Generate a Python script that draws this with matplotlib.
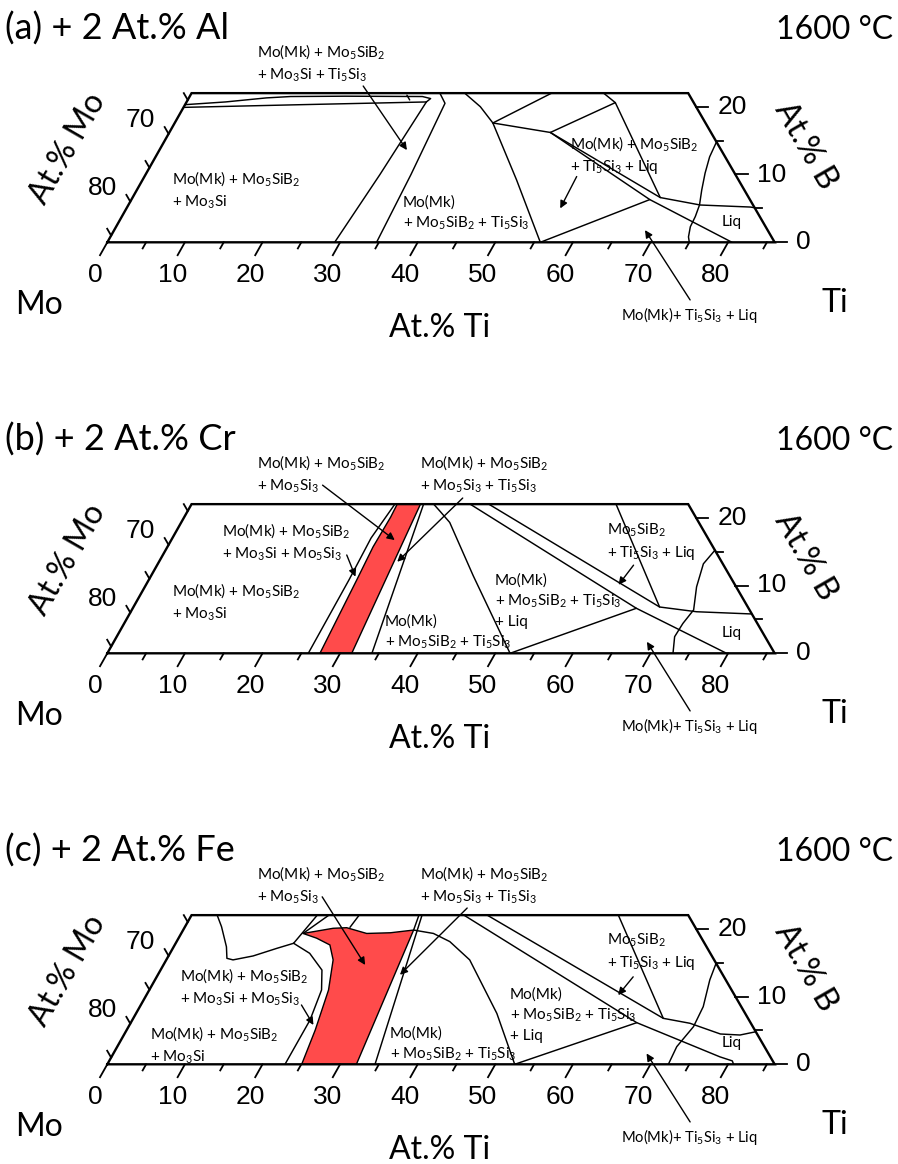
import matplotlib.pyplot as plt
from matplotlib.transforms import Affine2D
from matplotlib.patches import Polygon

plt.rcParams['font.family'] = ['Lato', 'DejaVu Sans']
plt.rcParams['mathtext.fontset'] = 'custom'
plt.rcParams['mathtext.rm'] = 'Lato'
plt.rcParams['mathtext.it'] = 'Lato:italic'
plt.rcParams['mathtext.bf'] = 'Lato:bold'

# section of Mo-Si-B-Ti at 1600 C, Ti (at.%) along the base, B (at.%) up the side
TI_MAX = 86
B_MAX = 22
ti_ticks = list(range(0, 90, 5))
ti_labels = list(range(0, 90, 10))
b_ticks = [0, 5, 10, 15, 20]
b_labels = [0, 10, 20]
mo_ticks = [85, 80, 75, 70, 65]
mo_labels = [80, 70]

titles = ['(a) + 2 At.% Al', '(b) + 2 At.% Cr', '(c) + 2 At.% Fe']
temp = '1600 °C'

# phase boundaries, (Ti, B) in at.%
# (a) + Al
a_lens_low = [(0, 19.9), (15, 20.3), (30.9, 20.7)]
a_lens_up = [(0, 20.3), (5, 20.7), (10, 21.3), (13, 21.5), (20, 21.55), (30, 21.5), (31.2, 21.2), (30.9, 20.7)]
a_tie = [(27.9, 21.7), (28.6, 21.0)]
a_line1 = [(29.3, 0), (30.2, 10), (30.9, 20.7)]
a_line2 = [(34.7, 0), (34.2, 10), (33.4, 20.5), (32.0, 22)]
a_line3 = [(35.2, 22), (38.2, 20.0), (41.0, 17.6), (48.2, 9.2), (55.8, 0)]
a_line4 = [(41.0, 17.6), (46.4, 22)]
a_line5 = [(41.0, 17.6), (49.1, 16.2), (55.3, 20.6), (53.1, 22)]
a_line6 = [(55.3, 20.6), (68.0, 6.6)]
a_line7 = [(49.1, 16.2), (68.0, 6.6), (73.7, 5.5), (80.3, 5.2), (80.9, 5.1)]
a_line8 = [(49.1, 16.2), (66.8, 6.3)]
a_line9 = [(55.8, 0), (66.8, 6.3), (80.5, 0)]
a_liq = [(71.2, 14.8), (71.4, 12.6), (72.0, 10.2), (72.8, 7.7), (73.6, 5.5),
         (73.9, 3.8), (74.0, 2.3), (74.5, 0.8), (75.0, 0)]

# (b) + Cr
b_red = [(27.4, 0), (26.8, 10.9), (26.5, 15.7), (26.6, 20.1), (26.5, 22), (29.5, 22), (31.5, 0)]
b_line1 = [(25.9, 0), (25.8, 10.9), (25.6, 17), (26.2, 22)]
b_line2 = [(34.1, 0), (29.9, 22)]
b_line3 = [(31.2, 22), (32.6, 20.9), (34.6, 19.3), (41.5, 11.45), (51.9, 0)]
b_line4 = [(35.9, 22), (64.9, 6.64), (79.8, 0)]
b_line5 = [(38.3, 22), (67.8, 6.83), (72.9, 6.13), (80.2, 5.8)]
b_line6 = [(51.9, 0), (64.9, 6.64)]
b_line7 = [(54.7, 22), (67.8, 6.83)]
b_liq = [(70.8, 15.2), (70.3, 13.2), (71.1, 9.8), (72.4, 6.4), (72.0, 4.4), (71.9, 2.45), (72.9, 0)]

# (c) + Fe
c_red = [(25.05, 0), (24.3, 5.06), (23.1, 10.96), (21.5, 15.4), (20.0, 17.6), (17.8, 18.6),
         (15.7, 19.3), (19.2, 20.06), (20.9, 20.15), (23.9, 19.3), (26.9, 19.4), (29.7, 19.8), (32.1, 0)]
c_line1 = [(15.2, 17.85), (18.0, 16.37), (20.8, 13.9), (22.2, 10.96), (22.9, 6.53), (22.9, 0)]
c_line2 = [(3.3, 22), (4.7, 20.3), (6.8, 17.33), (7.7, 15.63), (8.6, 15.4), (10.9, 15.98),
           (13.4, 17.1), (15.2, 17.85)]
c_line3 = [(15.2, 17.85), (16.2, 22)]
c_line4 = [(15.7, 19.3), (17.7, 22)]
c_line5 = [(21.3, 20.2), (21.6, 22)]
c_line6 = [(34.5, 0), (29.7, 22)]
c_line7 = [(29.7, 19.8), (29.3, 22)]
c_line8 = [(29.7, 19.8), (32.5, 19.3), (35.2, 18.1), (39.1, 15.4), (46.5, 7.5), (52.5, 0)]
c_line9 = [(35.1, 22), (65.2, 6.14), (78.4, 1.1), (80.3, 0.5), (80.7, 0)]
c_line10 = [(38.1, 22), (68.3, 6.78), (72.1, 6.05), (76.8, 4.47), (79.4, 4.32), (81.2, 4.8)]
c_line11 = [(52.5, 0), (65.2, 6.14)]
c_line12 = [(55.0, 22), (68.3, 6.78)]
c_liq = [(71.1, 14.9), (71.5, 12.44), (72.6, 8.5), (72.8, 5.55), (72.1, 2.6), (72.3, 0)]

# arrows: (tail, head) in (Ti, B)
a_arrows = [((21.6, 23.05), (31.9, 13.6)), ((55.7, 9.7), (55.9, 5.0)), ((79.3, -8.5), (68.4, 1.8))]
b_arrows = [((15.5, 24.8), (28.8, 16.7)), ((34.5, 22.9), (30.7, 13.5)), ((23.7, 14.5), (26.4, 11.3)),
            ((61.4, 13.0), (60.9, 10.1)), ((79.3, -8.5), (68.7, 1.7))]
c_arrows = [((15.5, 24.7), (26.0, 14.65)), ((35.0, 23.05), (31.2, 13.2)), ((20.7, 8.75), (23.7, 5.8)),
            ((61.4, 12.9), (60.8, 10.2)), ((79.3, -8.5), (68.7, 1.6))]

# phase field labels: text, left x, centre y (pixels of the page)
a_text = [('Mo(Mk) + Mo$_5$SiB$_2$\n+ Mo$_3$Si', 172, 190),
          ('Mo(Mk) + Mo$_5$SiB$_2$\n+ Mo$_3$Si + Ti$_5$Si$_3$', 257, 63),
          ('Mo(Mk)\n+ Mo$_5$SiB$_2$ + Ti$_5$Si$_3$', 403, 214),
          ('Mo(Mk) + Mo$_5$SiB$_2$\n+ Ti$_5$Si$_3$ + Liq', 570, 155),
          ('Liq', 722, 222)]
b_text = [('Mo(Mk) + Mo$_5$SiB$_2$\n+ Mo$_5$Si$_3$', 257, 474),
          ('Mo(Mk) + Mo$_5$SiB$_2$\n+ Mo$_5$Si$_3$ + Ti$_5$Si$_3$', 420, 474),
          ('Mo(Mk) + Mo$_5$SiB$_2$\n+ Mo$_3$Si + Mo$_5$Si$_3$', 222, 542),
          ('Mo(Mk) + Mo$_5$SiB$_2$\n+ Mo$_3$Si', 172, 602),
          ('Mo(Mk)\n+ Mo$_5$SiB$_2$ + Ti$_5$Si$_3$', 385, 633),
          ('Mo(Mk)\n+ Mo$_5$SiB$_2$ + Ti$_5$Si$_3$\n+ Liq', 495, 601),
          ('Mo$_5$SiB$_2$\n+ Ti$_5$Si$_3$ + Liq', 607, 542),
          ('Liq', 722, 633)]
c_text = [('Mo(Mk) + Mo$_5$SiB$_2$\n+ Mo$_5$Si$_3$', 257, 885),
          ('Mo(Mk) + Mo$_5$SiB$_2$\n+ Mo$_5$Si$_3$ + Ti$_5$Si$_3$', 420, 885),
          ('Mo(Mk) + Mo$_5$SiB$_2$\n+ Mo$_3$Si + Mo$_5$Si$_3$', 180, 987),
          ('Mo(Mk) + Mo$_5$SiB$_2$\n+ Mo$_3$Si', 150, 1045),
          ('Mo(Mk)\n+ Mo$_5$SiB$_2$ + Ti$_5$Si$_3$', 390, 1045),
          ('Mo(Mk)\n+ Mo$_5$SiB$_2$ + Ti$_5$Si$_3$\n+ Liq', 510, 1015),
          ('Mo$_5$SiB$_2$\n+ Ti$_5$Si$_3$ + Liq', 607, 952),
          ('Liq', 722, 1043)]
bottom_note = 'Mo(Mk)+ Ti$_5$Si$_3$ + Liq'

panels = [
    dict(lines=[a_lens_low, a_lens_up, a_tie, a_line1, a_line2, a_line3, a_line4, a_line5,
                a_line6, a_line7, a_line8, a_line9, a_liq], red=None, arrows=a_arrows, text=a_text),
    dict(lines=[b_line1, b_line2, b_line3, b_line4, b_line5, b_line6, b_line7, b_liq],
         red=b_red, arrows=b_arrows, text=b_text),
    dict(lines=[c_line1, c_line2, c_line3, c_line4, c_line5, c_line6, c_line7, c_line8,
                c_line9, c_line10, c_line11, c_line12, c_liq], red=c_red, arrows=c_arrows, text=c_text),
]

fig = plt.figure(figsize=(8.98, 11.64), dpi=100)
ax = fig.add_axes([0, 0, 1, 1])
ax.set_xlim(0, 898)
ax.set_ylim(1164, 0)
ax.axis('off')

X0 = 107.3
Y0 = [242.3, 653.3, 1064.3]
S_TI = 7.76   # px per at.% Ti
S_BX = 3.83   # horizontal px per at.% B
S_BY = 6.78   # vertical px per at.% B
NUMF = 'Liberation Sans'

for k, p in enumerate(panels):
    y0 = Y0[k]
    tf = Affine2D.from_values(S_TI, 0, S_BX, -S_BY, X0, y0) + ax.transData

    if p['red'] is not None:
        ax.add_patch(Polygon(p['red'], closed=True, facecolor='#FF4B4B', edgecolor='k',
                             lw=1.0, transform=tf, zorder=1))
    for ln in p['lines']:
        ax.plot([q[0] for q in ln], [q[1] for q in ln], color='k', lw=1.05, transform=tf,
                zorder=2, solid_capstyle='round')

    # frame
    ax.plot([0, TI_MAX, TI_MAX - B_MAX, 0, 0], [0, 0, B_MAX, B_MAX, 0], color='k', lw=1.7,
            transform=tf, zorder=3, solid_joinstyle='miter')

    # Ti axis
    for t in ti_ticks:
        d = 1.9 if t % 10 == 0 else 0.9
        ax.plot([t, t], [0, -d], color='k', lw=1.3, transform=tf)
    for t in ti_labels:
        ax.annotate(str(t), xy=(t, 0), xycoords=tf, xytext=(-8.9, -23.5), textcoords='offset points',
                    ha='center', va='center', fontsize=19, family=NUMF)
    # B axis
    for b in b_ticks:
        d = 1.6 if b % 10 == 0 else 0.9
        ax.plot([TI_MAX - b, TI_MAX - b + d], [b, b], color='k', lw=1.3, transform=tf)
    for b in b_labels:
        ax.annotate(str(b), xy=(TI_MAX - b, b), xycoords=tf, xytext=(15.5, 0), textcoords='offset points',
                    ha='left', va='center', fontsize=19, family=NUMF)
    # Mo axis
    for m in mo_ticks:
        b = TI_MAX - m
        ax.plot([0, -1.0], [b, b + 1.0], color='k', lw=1.3, transform=tf)
    for m in mo_labels:
        ax.annotate(str(m), xy=(0, TI_MAX - m), xycoords=tf, xytext=(-20.2, 10.1), textcoords='offset points',
                    ha='center', va='center', fontsize=19, family=NUMF)

    for tail, head in p['arrows']:
        ax.annotate('', xy=head, xycoords=tf, xytext=tail, textcoords=tf,
                    arrowprops=dict(arrowstyle='-|>', color='k', lw=1.0, mutation_scale=11,
                                    shrinkA=0, shrinkB=0), zorder=4)

    for s, x, y in p['text']:
        ax.text(x, y, s, ha='left', va='center', fontsize=11, linespacing=1.4, zorder=5)
    ax.text(689, y0 + 73, bottom_note, ha='center', va='center', fontsize=10.6)

    ax.text(5, y0 - 203, titles[k], ha='left', va='baseline', fontsize=26)
    ax.text(893, y0 - 203, temp, ha='right', va='baseline', fontsize=23)
    ax.text(39, y0 + 63, 'Mo', ha='center', va='center', fontsize=23)
    ax.text(835, y0 + 61, 'Ti', ha='center', va='center', fontsize=23)
    ax.text(440, y0 + 86, 'At.% Ti', ha='center', va='center', fontsize=23)
    ax.text(68, y0 - 94, 'At.% Mo', ha='center', va='center', fontsize=23, rotation=60,
            rotation_mode='anchor')
    ax.text(806, y0 - 97, 'At.% B', ha='center', va='center', fontsize=23, rotation=-60,
            rotation_mode='anchor')

fig.savefig('out.png', dpi=100)
